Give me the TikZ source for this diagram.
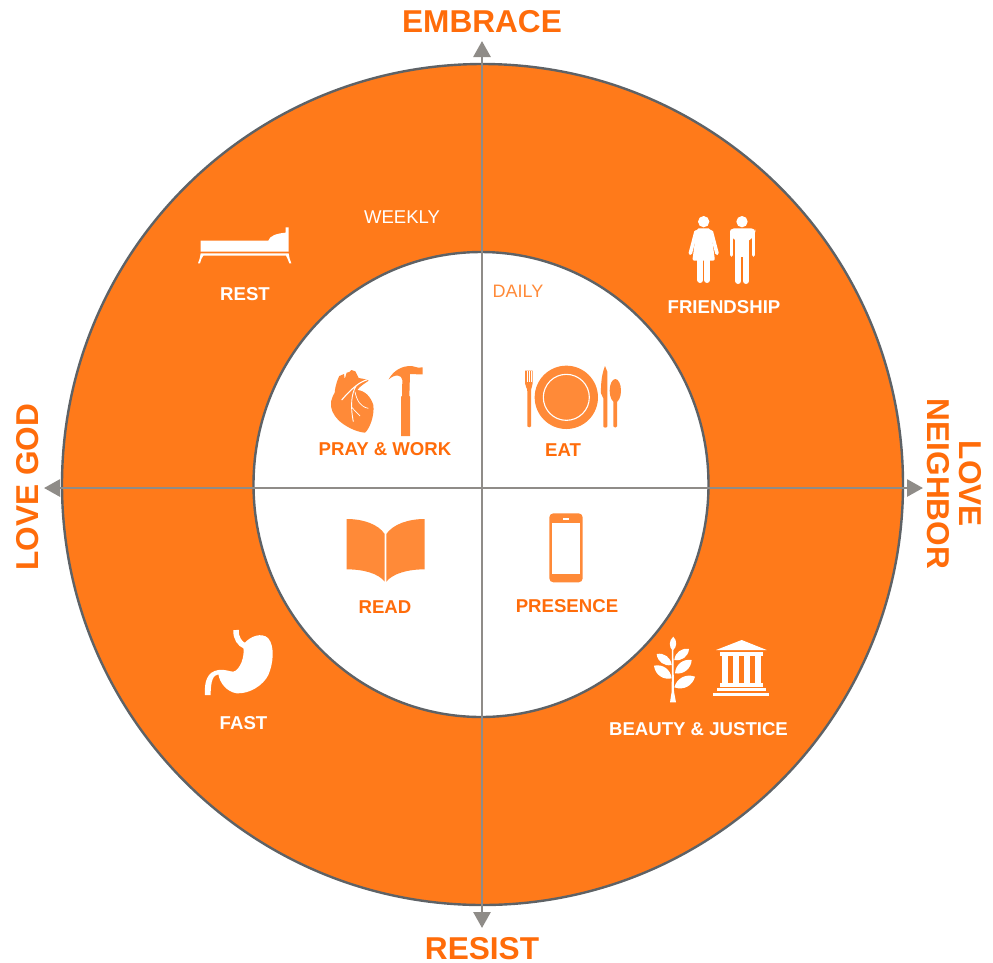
\documentclass[tikz,border=0pt]{standalone}
\usepackage{fontspec}
\setmainfont{Liberation Sans}
\usetikzlibrary{arrows.meta}
\definecolor{ringorange}{HTML}{FF7A1A}
\definecolor{iconorange}{HTML}{FF8A38}
\definecolor{textorange}{HTML}{FF6C0A}
\definecolor{edgegrey}{HTML}{5E6266}
\definecolor{axisgrey}{HTML}{8F8C88}
\tikzset{
  axisline/.style={draw=axisgrey,line width=2.8pt,{Triangle[length=16pt,width=17pt]}-{Triangle[length=16pt,width=17pt]}},
  bigtitle/.style={inner sep=0pt,text=textorange,font=\fontsize{31.6}{32}\selectfont\bfseries},
  innerlabel/.style={inner sep=0pt,text=textorange,font=\fontsize{18.6}{19}\selectfont\bfseries},
  outerlabel/.style={inner sep=0pt,text=white,font=\fontsize{18.6}{19}\selectfont\bfseries},
  icon/.style={shift={#1},x=0.33333pt,y=-0.33333pt},
  leafshape/.style={white,bend left=48,looseness=1.05},
}
\begin{document}
\begin{tikzpicture}[x=1pt,y=-1pt]
\useasboundingbox (0,0) rectangle (993,962);
% rings
\node[circle,draw=edgegrey,fill=ringorange,line width=2.4pt,minimum size=841pt,inner sep=0pt] (outer) at (482.5,484.5) {};
\filldraw[draw=edgegrey,fill=white,line width=2.4pt] (481,484.5) ellipse [x radius=227.5,y radius=232.5];
% axes
\coordinate (west) at (44,488);
\coordinate (east) at (923,488);
\coordinate (north) at (482,41);
\coordinate (south) at (482,928);
\draw[axisline] (west) -- (east);
\draw[axisline] (north) -- (south);
% titles
\node[bigtitle] (embrace) at (482,22) {EMBRACE};
\node[bigtitle] (resist) at (482,948.5) {RESIST};
\node[bigtitle,rotate=90] (lovegod) at (28,487) {LOVE GOD};
\node[bigtitle,rotate=-90,align=center] (loveneighbor) at (954,484) {LOVE\\[0pt]NEIGHBOR};
% labels
\node[inner sep=0pt,text=white,font=\fontsize{18.5}{19}\selectfont] (weekly) at (402,217) {WEEKLY};
\node[inner sep=0pt,text=iconorange,font=\fontsize{18}{19}\selectfont] (daily) at (518,291) {DAILY};
\node[outerlabel] (rest) at (245,294.5) {REST};
\node[outerlabel] (friendship) at (724,307.5) {FRIENDSHIP};
\node[innerlabel] (praywork) at (385,449.5) {PRAY \& WORK};
\node[innerlabel] (eat) at (563,450) {EAT};
\node[innerlabel] (read) at (385,607) {READ};
\node[innerlabel] (presence) at (567,606.5) {PRESENCE};
\node[outerlabel] (fast) at (243.5,723.5) {FAST};
\node[outerlabel] (beauty) at (698.5,729.5) {BEAUTY \& JUSTICE};
% bed
\begin{scope}[icon={(180,200)}]
\fill[white] (62,122) -- (265,122) .. controls (268,108) and (290,100) .. (317,98) -- (317,82) -- (326,82) -- (326,155) -- (62,155) -- cycle;
\fill[white] (62,160) -- (326,160) .. controls (328,172) and (330,182) .. (334,190) -- (328,190) .. controls (324,180) and (322,172) .. (318,167) -- (70,167) .. controls (65,172) and (63,180) .. (60,190) -- (54,190) .. controls (58,182) and (60,172) .. (62,160) -- cycle;
\end{scope}
% people
\begin{scope}[icon={(660,200)}]
\fill[white] (131,65) circle [radius=17];
\fill[white,rounded corners=2pt] (110,85) -- (152,85) -- (165,182) -- (97,182) -- cycle;
\draw[white,line width=3.6pt,line cap=round] (108,95) -- (91,160) (154,95) -- (171,160);
\draw[white,line width=6pt,line cap=round] (121,180) -- (121,240) (141,180) -- (141,240);
\fill[white] (246,65) circle [radius=17];
\fill[white,rounded corners=4pt] (210,100) -- (210,85) -- (286,85) -- (286,100) -- (267,125) -- (226,125) -- cycle;
\fill[white] (226,100) rectangle (267,170);
\draw[white,line width=3.6pt,line cap=round] (215,95) -- (215,165) (281,95) -- (281,165);
\draw[white,line width=6pt,line cap=round] (235,165) -- (235,243) (258,165) -- (258,243);
\end{scope}
% heart, hammer, fork, plate, knife, spoon
\begin{scope}[icon={(310,350)}]
\fill[iconorange] (74,128) .. controls (76,105) and (84,85) .. (88,78) -- (102,72) -- (104,88) -- (110,68) -- (118,66) -- (124,60) -- (136,64) -- (146,84) .. controls (155,86) and (165,86) .. (176,92) .. controls (165,100) and (150,108) .. (142,120) .. controls (165,122) and (182,140) .. (190,165) .. controls (194,195) and (180,235) .. (165,248) .. controls (135,246) and (100,225) .. (85,210) .. controls (70,195) and (60,175) .. (63,155) .. controls (65,145) and (70,135) .. (74,128) -- cycle;
\draw[white,line width=1.1pt] (170,90) .. controls (150,95) and (125,115) .. (95,150);
\draw[white,line width=.9pt] (138,108) .. controls (125,130) and (120,165) .. (130,215);
\draw[white,line width=.7pt] (125,172) -- (150,198);
\draw[white,line width=.7pt] (135,125) .. controls (140,150) and (150,170) .. (175,175);
\fill[iconorange] (236,88) .. controls (250,62) and (275,47) .. (305,48) -- (325,53) -- (338,52) -- (338,73) -- (325,73) -- (300,72) -- (298,138) -- (300,140) -- (300,258) -- (273,258) -- (273,140) -- (276,138) -- (277,90) .. controls (275,75) and (258,70) .. (236,88) -- cycle;
% fork
\fill[iconorange] (645,62) -- (668,62) -- (668,100) .. controls (668,110) and (663,112) .. (663,124) -- (663,229) .. controls (663,233) and (652,233) .. (652,229) -- (652,124) .. controls (652,112) and (645,110) .. (645,100) -- cycle;
\draw[white,line width=.6pt] (651,62) -- (651,96) (657,62) -- (657,96) (663,62) -- (663,96);
% plate
\fill[iconorange] (769,142) circle [radius=95];
\draw[white,line width=1.1pt] (769,142) circle [radius=69];
% knife
\fill[iconorange] (885,48) .. controls (876,70) and (872,100) .. (873,130) -- (880,145) -- (880,229) .. controls (880,234) and (892,234) .. (892,229) -- (892,65) -- cycle;
% spoon
\fill[iconorange] (916,122) ellipse [x radius=17,y radius=35];
\fill[iconorange] (910,140) -- (921,140) -- (921,229) .. controls (921,234) and (910,234) .. (910,229) -- cycle;
\end{scope}
% book and phone
\begin{scope}[icon={(335,505)}]
\fill[iconorange] (35,42) .. controls (85,42) and (130,58) .. (149,87) -- (149,230) .. controls (130,205) and (85,193) .. (35,193) -- cycle;
\fill[iconorange] (269,42) .. controls (219,42) and (174,58) .. (154,87) -- (154,230) .. controls (174,205) and (219,193) .. (269,193) -- cycle;
\fill[iconorange,rounded corners=4pt] (643,25) rectangle (743,232);
\fill[white] (651,53) rectangle (736,207);
\fill[white] (683,38) rectangle (703,44);
\end{scope}
% plant and temple
\begin{scope}[icon={(640,625)}]
\fill[white] (96,70) -- (100,70) -- (102,200) -- (108,232) -- (90,232) -- (95,200) -- cycle;
\fill[white] (98,77) to[leafshape] (100,35) to[leafshape] (98,77);
\fill[white] (95,120) to[leafshape] (50,87) to[leafshape] (95,120);
\fill[white] (103,105) to[leafshape] (147,72) to[leafshape] (103,105);
\fill[white] (95,160) to[leafshape] (42,122) to[leafshape] (95,160);
\fill[white] (105,145) to[leafshape] (155,105) to[leafshape] (105,145);
\fill[white] (103,187) to[leafshape] (165,155) to[leafshape] (103,187);
\fill[white] (228,75) -- (305,45) -- (380,75) -- cycle;
\fill[white] (240,82) rectangle (368,92);
\foreach \cx in {254,287,321,354} {\fill[white] (\cx-8.5,92) rectangle (\cx+8.5,175);}
\fill[white] (240,175) rectangle (368,187);
\fill[white] (230,188) rectangle (378,198);
\fill[white] (220,203) rectangle (388,213);
\end{scope}
% stomach
\begin{scope}[icon={(190,620)}]
\fill[white] (165,68) .. controls (180,50) and (215,35) .. (235,55) .. controls (255,80) and (250,130) .. (235,165) .. controls (220,195) and (180,222) .. (140,220) .. controls (110,215) and (90,190) .. (85,163) .. controls (70,165) and (62,180) .. (62,225) -- (45,225) .. controls (42,185) and (52,155) .. (85,150) .. controls (105,147) and (120,155) .. (130,155) .. controls (150,150) and (165,110) .. (160,82) -- cycle;
\draw[white,line width=5.5pt] (138,30) .. controls (137,55) and (150,72) .. (165,78);
\end{scope}
\end{tikzpicture}
\end{document}
